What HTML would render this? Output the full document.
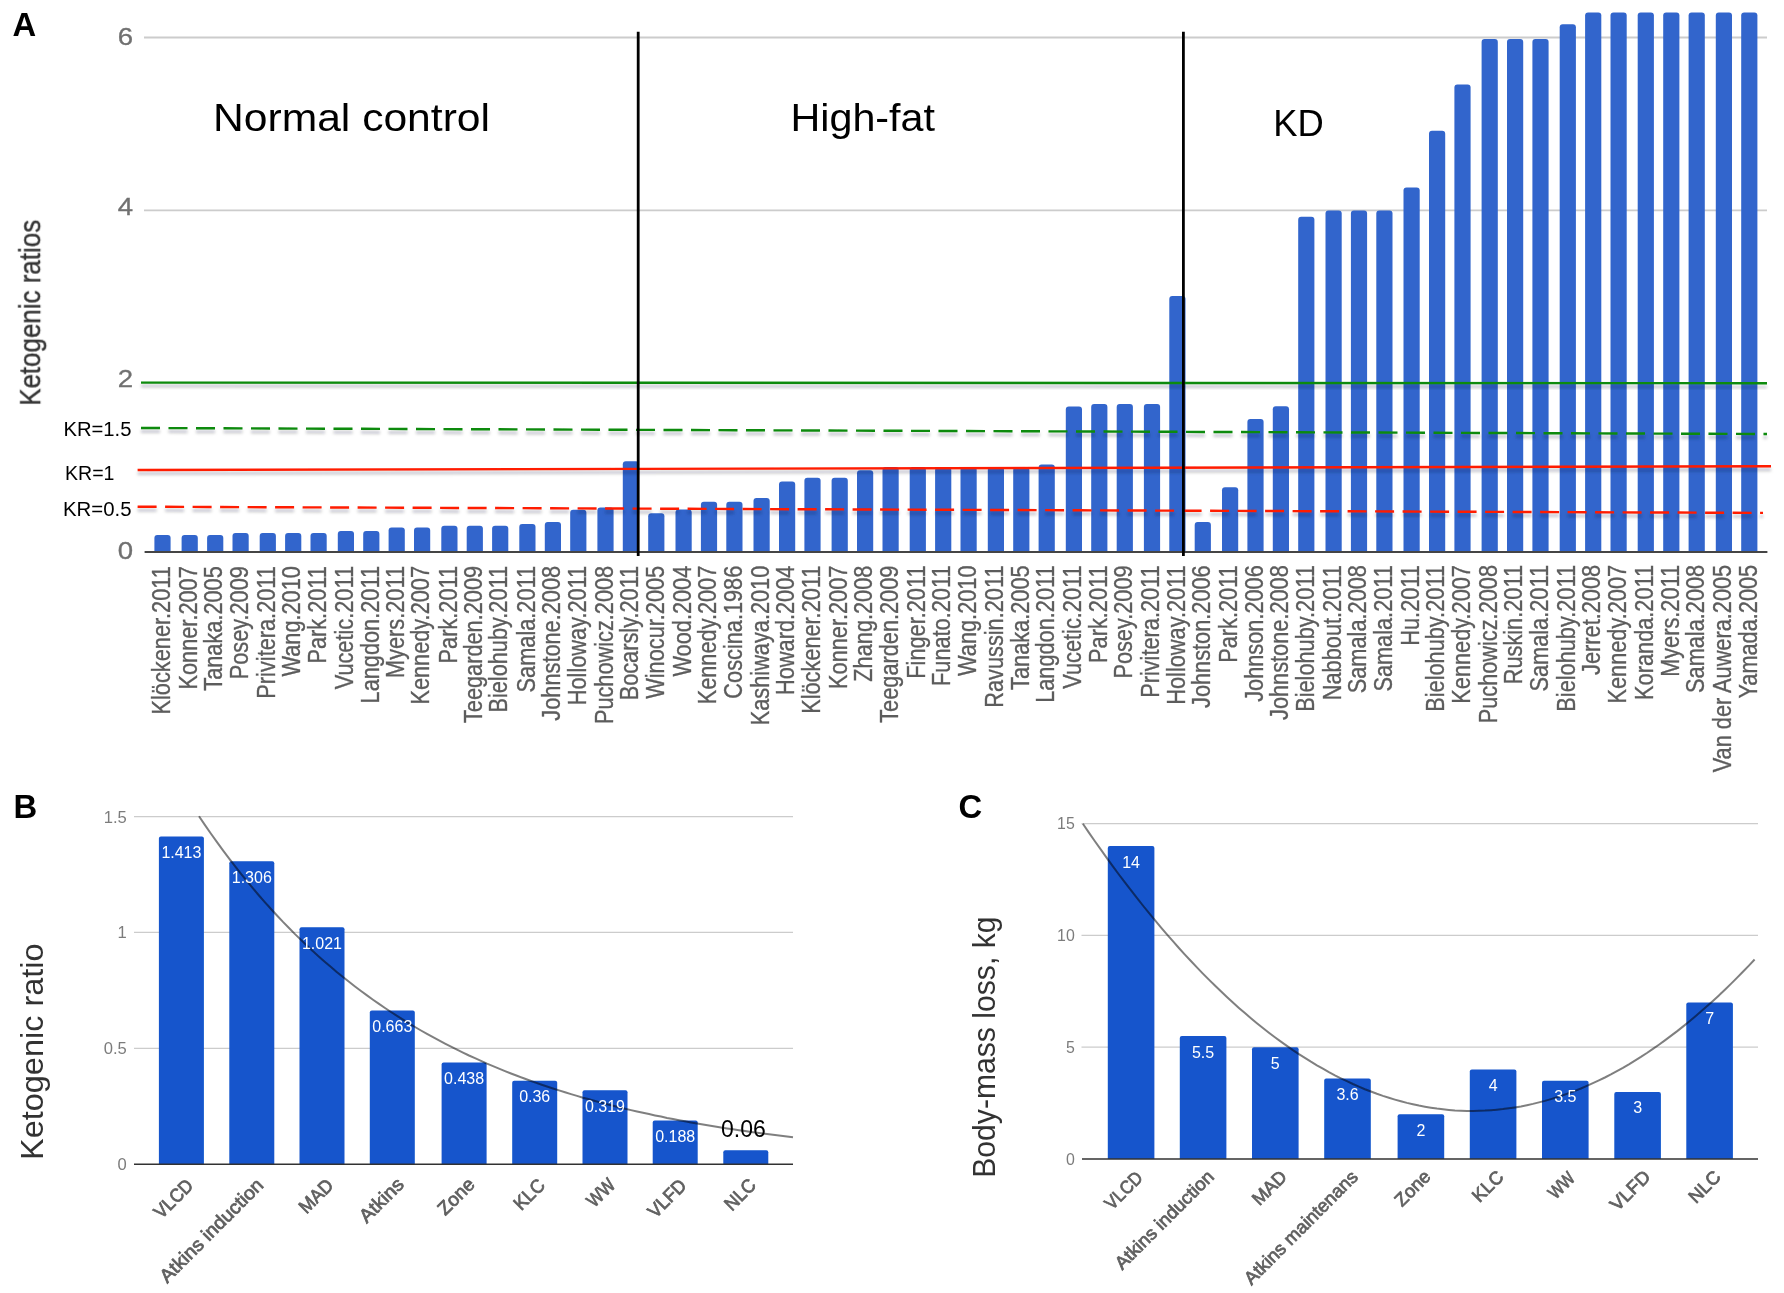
<!DOCTYPE html>
<html lang="en"><head><meta charset="utf-8"><title>Ketogenic ratios</title>
<style>
html,body{margin:0;padding:0;background:#fff;}
body{width:1784px;height:1293px;overflow:hidden;}
svg{display:block;font-family:"Liberation Sans", sans-serif;}
</style></head><body>
<svg width="1784" height="1293" viewBox="0 0 1784 1293">
<defs><filter id="blur" x="-5%" y="-400%" width="110%" height="900%" filterUnits="objectBoundingBox"><feGaussianBlur stdDeviation="1.6"/></filter>
<filter id="softA" x="0" y="0" width="1784" height="800" filterUnits="userSpaceOnUse"><feGaussianBlur stdDeviation="0.55"/></filter>
<filter id="softB" x="0" y="780" width="1784" height="513" filterUnits="userSpaceOnUse"><feGaussianBlur stdDeviation="0.4"/></filter>
</defs>
<rect width="1784" height="1293" fill="#fff"/>
<g id="panelA" filter="url(#softA)">
<text x="12.6" y="36.4" font-size="32.8" font-weight="bold" fill="#000">A</text>
<line x1="144" y1="37.5" x2="1767" y2="37.5" stroke="#cccccc" stroke-width="1.8"/>
<line x1="144" y1="210.4" x2="1767" y2="210.4" stroke="#cccccc" stroke-width="1.8"/>
<text transform="translate(133.2,45.2) scale(1.19,1)" text-anchor="end" font-size="23.2" fill="#707070" stroke="#707070" stroke-width="0.3">6</text>
<text transform="translate(133.2,215.2) scale(1.19,1)" text-anchor="end" font-size="23.2" fill="#707070" stroke="#707070" stroke-width="0.3">4</text>
<text transform="translate(133.2,387.2) scale(1.19,1)" text-anchor="end" font-size="23.2" fill="#707070" stroke="#707070" stroke-width="0.3">2</text>
<text transform="translate(133.2,558.9) scale(1.19,1)" text-anchor="end" font-size="23.2" fill="#707070" stroke="#707070" stroke-width="0.3">0</text>
<text transform="translate(40.2,405.8) rotate(-90) scale(0.895,1)" font-size="29" fill="#333" stroke="#333" stroke-width="0.35">Ketogenic ratios</text>
<path d="M154.4 552.0V538.0Q154.4 535.0 157.4 535.0H167.6Q170.6 535.0 170.6 538.0V552.0Z" fill="#3165cc"/>
<path d="M181.6 552.0V538.0Q181.6 535.0 184.6 535.0H194.8Q197.8 535.0 197.8 538.0V552.0Z" fill="#3165cc"/>
<path d="M207.1 552.0V538.0Q207.1 535.0 210.1 535.0H220.3Q223.3 535.0 223.3 538.0V552.0Z" fill="#3165cc"/>
<path d="M232.5 552.0V536.0Q232.5 533.0 235.5 533.0H245.7Q248.7 533.0 248.7 536.0V552.0Z" fill="#3165cc"/>
<path d="M259.7 552.0V536.0Q259.7 533.0 262.7 533.0H272.9Q275.9 533.0 275.9 536.0V552.0Z" fill="#3165cc"/>
<path d="M285.1 552.0V536.0Q285.1 533.0 288.1 533.0H298.3Q301.3 533.0 301.3 536.0V552.0Z" fill="#3165cc"/>
<path d="M310.5 552.0V536.0Q310.5 533.0 313.5 533.0H323.7Q326.7 533.0 326.7 536.0V552.0Z" fill="#3165cc"/>
<path d="M337.8 552.0V534.0Q337.8 531.0 340.8 531.0H351.0Q354.0 531.0 354.0 534.0V552.0Z" fill="#3165cc"/>
<path d="M363.2 552.0V534.0Q363.2 531.0 366.2 531.0H376.4Q379.4 531.0 379.4 534.0V552.0Z" fill="#3165cc"/>
<path d="M388.6 552.0V530.5Q388.6 527.5 391.6 527.5H401.8Q404.8 527.5 404.8 530.5V552.0Z" fill="#3165cc"/>
<path d="M414.0 552.0V530.5Q414.0 527.5 417.0 527.5H427.2Q430.2 527.5 430.2 530.5V552.0Z" fill="#3165cc"/>
<path d="M441.3 552.0V528.7Q441.3 525.7 444.3 525.7H454.5Q457.5 525.7 457.5 528.7V552.0Z" fill="#3165cc"/>
<path d="M466.7 552.0V528.7Q466.7 525.7 469.7 525.7H479.9Q482.9 525.7 482.9 528.7V552.0Z" fill="#3165cc"/>
<path d="M492.1 552.0V528.7Q492.1 525.7 495.1 525.7H505.3Q508.3 525.7 508.3 528.7V552.0Z" fill="#3165cc"/>
<path d="M519.3 552.0V527.0Q519.3 524.0 522.3 524.0H532.5Q535.5 524.0 535.5 527.0V552.0Z" fill="#3165cc"/>
<path d="M544.8 552.0V525.0Q544.8 522.0 547.8 522.0H558.0Q561.0 522.0 561.0 525.0V552.0Z" fill="#3165cc"/>
<path d="M570.2 552.0V512.7Q570.2 509.7 573.2 509.7H583.4Q586.4 509.7 586.4 512.7V552.0Z" fill="#3165cc"/>
<path d="M597.4 552.0V510.5Q597.4 507.5 600.4 507.5H610.6Q613.6 507.5 613.6 510.5V552.0Z" fill="#3165cc"/>
<path d="M622.8 552.0V464.3Q622.8 461.3 625.8 461.3H636.0Q639.0 461.3 639.0 464.3V552.0Z" fill="#3165cc"/>
<path d="M648.2 552.0V516.2Q648.2 513.2 651.2 513.2H661.4Q664.4 513.2 664.4 516.2V552.0Z" fill="#3165cc"/>
<path d="M675.5 552.0V512.5Q675.5 509.5 678.5 509.5H688.7Q691.7 509.5 691.7 512.5V552.0Z" fill="#3165cc"/>
<path d="M700.9 552.0V504.7Q700.9 501.7 703.9 501.7H714.1Q717.1 501.7 717.1 504.7V552.0Z" fill="#3165cc"/>
<path d="M726.3 552.0V504.7Q726.3 501.7 729.3 501.7H739.5Q742.5 501.7 742.5 504.7V552.0Z" fill="#3165cc"/>
<path d="M753.5 552.0V501.0Q753.5 498.0 756.5 498.0H766.7Q769.7 498.0 769.7 501.0V552.0Z" fill="#3165cc"/>
<path d="M779.0 552.0V484.4Q779.0 481.4 782.0 481.4H792.2Q795.2 481.4 795.2 484.4V552.0Z" fill="#3165cc"/>
<path d="M804.4 552.0V480.7Q804.4 477.7 807.4 477.7H817.6Q820.6 477.7 820.6 480.7V552.0Z" fill="#3165cc"/>
<path d="M831.6 552.0V480.7Q831.6 477.7 834.6 477.7H844.8Q847.8 477.7 847.8 480.7V552.0Z" fill="#3165cc"/>
<path d="M857.0 552.0V473.3Q857.0 470.3 860.0 470.3H870.2Q873.2 470.3 873.2 473.3V552.0Z" fill="#3165cc"/>
<path d="M882.5 552.0V470.0Q882.5 467.0 885.5 467.0H895.7Q898.7 467.0 898.7 470.0V552.0Z" fill="#3165cc"/>
<path d="M909.7 552.0V470.0Q909.7 467.0 912.7 467.0H922.9Q925.9 467.0 925.9 470.0V552.0Z" fill="#3165cc"/>
<path d="M935.1 552.0V470.0Q935.1 467.0 938.1 467.0H948.3Q951.3 467.0 951.3 470.0V552.0Z" fill="#3165cc"/>
<path d="M960.5 552.0V470.0Q960.5 467.0 963.5 467.0H973.7Q976.7 467.0 976.7 470.0V552.0Z" fill="#3165cc"/>
<path d="M987.8 552.0V470.0Q987.8 467.0 990.8 467.0H1001.0Q1004.0 467.0 1004.0 470.0V552.0Z" fill="#3165cc"/>
<path d="M1013.2 552.0V470.0Q1013.2 467.0 1016.2 467.0H1026.4Q1029.4 467.0 1029.4 470.0V552.0Z" fill="#3165cc"/>
<path d="M1038.6 552.0V467.6Q1038.6 464.6 1041.6 464.6H1051.8Q1054.8 464.6 1054.8 467.6V552.0Z" fill="#3165cc"/>
<path d="M1065.8 552.0V409.4Q1065.8 406.4 1068.8 406.4H1079.0Q1082.0 406.4 1082.0 409.4V552.0Z" fill="#3165cc"/>
<path d="M1091.2 552.0V407.0Q1091.2 404.0 1094.2 404.0H1104.4Q1107.4 404.0 1107.4 407.0V552.0Z" fill="#3165cc"/>
<path d="M1116.7 552.0V407.0Q1116.7 404.0 1119.7 404.0H1129.9Q1132.9 404.0 1132.9 407.0V552.0Z" fill="#3165cc"/>
<path d="M1143.9 552.0V407.0Q1143.9 404.0 1146.9 404.0H1157.1Q1160.1 404.0 1160.1 407.0V552.0Z" fill="#3165cc"/>
<path d="M1169.3 552.0V299.0Q1169.3 296.0 1172.3 296.0H1182.5Q1185.5 296.0 1185.5 299.0V552.0Z" fill="#3165cc"/>
<path d="M1194.7 552.0V525.0Q1194.7 522.0 1197.7 522.0H1207.9Q1210.9 522.0 1210.9 525.0V552.0Z" fill="#3165cc"/>
<path d="M1222.0 552.0V490.3Q1222.0 487.3 1225.0 487.3H1235.2Q1238.2 487.3 1238.2 490.3V552.0Z" fill="#3165cc"/>
<path d="M1247.4 552.0V422.0Q1247.4 419.0 1250.4 419.0H1260.6Q1263.6 419.0 1263.6 422.0V552.0Z" fill="#3165cc"/>
<path d="M1272.8 552.0V409.2Q1272.8 406.2 1275.8 406.2H1286.0Q1289.0 406.2 1289.0 409.2V552.0Z" fill="#3165cc"/>
<path d="M1298.2 552.0V219.8Q1298.2 216.8 1301.2 216.8H1311.4Q1314.4 216.8 1314.4 219.8V552.0Z" fill="#3165cc"/>
<path d="M1325.5 552.0V213.4Q1325.5 210.4 1328.5 210.4H1338.7Q1341.7 210.4 1341.7 213.4V552.0Z" fill="#3165cc"/>
<path d="M1350.9 552.0V213.4Q1350.9 210.4 1353.9 210.4H1364.1Q1367.1 210.4 1367.1 213.4V552.0Z" fill="#3165cc"/>
<path d="M1376.3 552.0V213.4Q1376.3 210.4 1379.3 210.4H1389.5Q1392.5 210.4 1392.5 213.4V552.0Z" fill="#3165cc"/>
<path d="M1403.5 552.0V190.6Q1403.5 187.6 1406.5 187.6H1416.7Q1419.7 187.6 1419.7 190.6V552.0Z" fill="#3165cc"/>
<path d="M1429.0 552.0V133.8Q1429.0 130.8 1432.0 130.8H1442.2Q1445.2 130.8 1445.2 133.8V552.0Z" fill="#3165cc"/>
<path d="M1454.4 552.0V87.6Q1454.4 84.6 1457.4 84.6H1467.6Q1470.6 84.6 1470.6 87.6V552.0Z" fill="#3165cc"/>
<path d="M1481.6 552.0V42.0Q1481.6 39.0 1484.6 39.0H1494.8Q1497.8 39.0 1497.8 42.0V552.0Z" fill="#3165cc"/>
<path d="M1507.0 552.0V42.0Q1507.0 39.0 1510.0 39.0H1520.2Q1523.2 39.0 1523.2 42.0V552.0Z" fill="#3165cc"/>
<path d="M1532.4 552.0V42.0Q1532.4 39.0 1535.4 39.0H1545.6Q1548.6 39.0 1548.6 42.0V552.0Z" fill="#3165cc"/>
<path d="M1559.7 552.0V27.2Q1559.7 24.2 1562.7 24.2H1572.9Q1575.9 24.2 1575.9 27.2V552.0Z" fill="#3165cc"/>
<path d="M1585.1 552.0V15.4Q1585.1 12.4 1588.1 12.4H1598.3Q1601.3 12.4 1601.3 15.4V552.0Z" fill="#3165cc"/>
<path d="M1610.5 552.0V15.4Q1610.5 12.4 1613.5 12.4H1623.7Q1626.7 12.4 1626.7 15.4V552.0Z" fill="#3165cc"/>
<path d="M1637.7 552.0V15.4Q1637.7 12.4 1640.7 12.4H1650.9Q1653.9 12.4 1653.9 15.4V552.0Z" fill="#3165cc"/>
<path d="M1663.2 552.0V15.4Q1663.2 12.4 1666.2 12.4H1676.4Q1679.4 12.4 1679.4 15.4V552.0Z" fill="#3165cc"/>
<path d="M1688.6 552.0V15.4Q1688.6 12.4 1691.6 12.4H1701.8Q1704.8 12.4 1704.8 15.4V552.0Z" fill="#3165cc"/>
<path d="M1715.8 552.0V15.4Q1715.8 12.4 1718.8 12.4H1729.0Q1732.0 12.4 1732.0 15.4V552.0Z" fill="#3165cc"/>
<path d="M1741.2 552.0V15.4Q1741.2 12.4 1744.2 12.4H1754.4Q1757.4 12.4 1757.4 15.4V552.0Z" fill="#3165cc"/>
<line x1="144.6" y1="552.0" x2="1767.4" y2="552.0" stroke="#444" stroke-width="2"/>
<line x1="141" y1="386.1" x2="1767" y2="386.7" stroke="#101820" stroke-opacity="0.22" stroke-width="3" filter="url(#blur)"/>
<line x1="141" y1="382.6" x2="1767" y2="383.2" stroke="#0b8a0b" stroke-width="2.4"/>
<line x1="141" y1="431.5" x2="1767" y2="437.5" stroke="#101820" stroke-opacity="0.22" stroke-width="3" stroke-dasharray="19 8.5" filter="url(#blur)"/>
<line x1="141" y1="428" x2="1767" y2="434" stroke="#0b8a0b" stroke-width="2.4" stroke-dasharray="19 8.5"/>
<line x1="137.6" y1="473.5" x2="1771" y2="469.8" stroke="#101820" stroke-opacity="0.22" stroke-width="3" filter="url(#blur)"/>
<line x1="137.6" y1="470" x2="1771" y2="466.3" stroke="#ff1a00" stroke-width="2.4"/>
<line x1="137.6" y1="510.2" x2="1763" y2="516.4" stroke="#101820" stroke-opacity="0.22" stroke-width="3" stroke-dasharray="19 8.5" filter="url(#blur)"/>
<line x1="137.6" y1="506.7" x2="1763" y2="512.9" stroke="#ff1a00" stroke-width="2.4" stroke-dasharray="19 8.5"/>
<line x1="638.2" y1="31.7" x2="638.2" y2="556" stroke="#000" stroke-width="2.8"/>
<line x1="1183.4" y1="31.7" x2="1183.4" y2="556" stroke="#000" stroke-width="2.8"/>
<text x="213" y="131.4" font-size="38" fill="#000" textLength="277" lengthAdjust="spacingAndGlyphs">Normal control</text>
<text x="790.5" y="131.4" font-size="38" fill="#000" textLength="144.5" lengthAdjust="spacingAndGlyphs">High-fat</text>
<text x="1273.2" y="136" font-size="37" fill="#000" textLength="50.5" lengthAdjust="spacingAndGlyphs">KD</text>
<text x="63.4" y="436" font-size="20.7" fill="#000" textLength="68" lengthAdjust="spacingAndGlyphs">KR=1.5</text>
<text x="65" y="480" font-size="20.7" fill="#000" textLength="49.4" lengthAdjust="spacingAndGlyphs">KR=1</text>
<text x="63" y="515.6" font-size="20.7" fill="#000" textLength="68.5" lengthAdjust="spacingAndGlyphs">KR=0.5</text>
<text transform="translate(169.7,566.2) rotate(-90) scale(0.853,1)" text-anchor="end" font-size="25.5" fill="#5c5c5c" stroke="#5c5c5c" stroke-width="0.35">Klöckener.2011</text>
<text transform="translate(196.9,566.2) rotate(-90) scale(0.853,1)" text-anchor="end" font-size="25.5" fill="#5c5c5c" stroke="#5c5c5c" stroke-width="0.35">Konner.2007</text>
<text transform="translate(222.4,566.2) rotate(-90) scale(0.853,1)" text-anchor="end" font-size="25.5" fill="#5c5c5c" stroke="#5c5c5c" stroke-width="0.35">Tanaka.2005</text>
<text transform="translate(247.8,566.1) rotate(-90) scale(0.853,1)" text-anchor="end" font-size="25.5" fill="#5c5c5c" stroke="#5c5c5c" stroke-width="0.35">Posey.2009</text>
<text transform="translate(275.0,566.1) rotate(-90) scale(0.853,1)" text-anchor="end" font-size="25.5" fill="#5c5c5c" stroke="#5c5c5c" stroke-width="0.35">Privitera.2011</text>
<text transform="translate(300.4,566.1) rotate(-90) scale(0.853,1)" text-anchor="end" font-size="25.5" fill="#5c5c5c" stroke="#5c5c5c" stroke-width="0.35">Wang.2010</text>
<text transform="translate(325.8,566.1) rotate(-90) scale(0.853,1)" text-anchor="end" font-size="25.5" fill="#5c5c5c" stroke="#5c5c5c" stroke-width="0.35">Park.2011</text>
<text transform="translate(353.1,566.0) rotate(-90) scale(0.853,1)" text-anchor="end" font-size="25.5" fill="#5c5c5c" stroke="#5c5c5c" stroke-width="0.35">Vucetic.2011</text>
<text transform="translate(378.5,566.0) rotate(-90) scale(0.853,1)" text-anchor="end" font-size="25.5" fill="#5c5c5c" stroke="#5c5c5c" stroke-width="0.35">Langdon.2011</text>
<text transform="translate(403.9,566.0) rotate(-90) scale(0.853,1)" text-anchor="end" font-size="25.5" fill="#5c5c5c" stroke="#5c5c5c" stroke-width="0.35">Myers.2011</text>
<text transform="translate(429.3,566.0) rotate(-90) scale(0.853,1)" text-anchor="end" font-size="25.5" fill="#5c5c5c" stroke="#5c5c5c" stroke-width="0.35">Kennedy.2007</text>
<text transform="translate(456.6,565.9) rotate(-90) scale(0.853,1)" text-anchor="end" font-size="25.5" fill="#5c5c5c" stroke="#5c5c5c" stroke-width="0.35">Park.2011</text>
<text transform="translate(482.0,565.9) rotate(-90) scale(0.853,1)" text-anchor="end" font-size="25.5" fill="#5c5c5c" stroke="#5c5c5c" stroke-width="0.35">Teegarden.2009</text>
<text transform="translate(507.4,565.9) rotate(-90) scale(0.853,1)" text-anchor="end" font-size="25.5" fill="#5c5c5c" stroke="#5c5c5c" stroke-width="0.35">Bielohuby.2011</text>
<text transform="translate(534.6,565.9) rotate(-90) scale(0.853,1)" text-anchor="end" font-size="25.5" fill="#5c5c5c" stroke="#5c5c5c" stroke-width="0.35">Samala.2011</text>
<text transform="translate(560.1,565.9) rotate(-90) scale(0.853,1)" text-anchor="end" font-size="25.5" fill="#5c5c5c" stroke="#5c5c5c" stroke-width="0.35">Johnstone.2008</text>
<text transform="translate(585.5,565.8) rotate(-90) scale(0.853,1)" text-anchor="end" font-size="25.5" fill="#5c5c5c" stroke="#5c5c5c" stroke-width="0.35">Holloway.2011</text>
<text transform="translate(612.7,565.8) rotate(-90) scale(0.853,1)" text-anchor="end" font-size="25.5" fill="#5c5c5c" stroke="#5c5c5c" stroke-width="0.35">Puchowicz.2008</text>
<text transform="translate(638.1,565.8) rotate(-90) scale(0.853,1)" text-anchor="end" font-size="25.5" fill="#5c5c5c" stroke="#5c5c5c" stroke-width="0.35">Bocarsly.2011</text>
<text transform="translate(663.5,565.8) rotate(-90) scale(0.853,1)" text-anchor="end" font-size="25.5" fill="#5c5c5c" stroke="#5c5c5c" stroke-width="0.35">Winocur.2005</text>
<text transform="translate(690.8,565.7) rotate(-90) scale(0.853,1)" text-anchor="end" font-size="25.5" fill="#5c5c5c" stroke="#5c5c5c" stroke-width="0.35">Wood.2004</text>
<text transform="translate(716.2,565.7) rotate(-90) scale(0.853,1)" text-anchor="end" font-size="25.5" fill="#5c5c5c" stroke="#5c5c5c" stroke-width="0.35">Kennedy.2007</text>
<text transform="translate(741.6,565.7) rotate(-90) scale(0.853,1)" text-anchor="end" font-size="25.5" fill="#5c5c5c" stroke="#5c5c5c" stroke-width="0.35">Coscina.1986</text>
<text transform="translate(768.8,565.7) rotate(-90) scale(0.853,1)" text-anchor="end" font-size="25.5" fill="#5c5c5c" stroke="#5c5c5c" stroke-width="0.35">Kashiwaya.2010</text>
<text transform="translate(794.3,565.6) rotate(-90) scale(0.853,1)" text-anchor="end" font-size="25.5" fill="#5c5c5c" stroke="#5c5c5c" stroke-width="0.35">Howard.2004</text>
<text transform="translate(819.7,565.6) rotate(-90) scale(0.853,1)" text-anchor="end" font-size="25.5" fill="#5c5c5c" stroke="#5c5c5c" stroke-width="0.35">Klöckener.2011</text>
<text transform="translate(846.9,565.6) rotate(-90) scale(0.853,1)" text-anchor="end" font-size="25.5" fill="#5c5c5c" stroke="#5c5c5c" stroke-width="0.35">Konner.2007</text>
<text transform="translate(872.3,565.6) rotate(-90) scale(0.853,1)" text-anchor="end" font-size="25.5" fill="#5c5c5c" stroke="#5c5c5c" stroke-width="0.35">Zhang.2008</text>
<text transform="translate(897.8,565.6) rotate(-90) scale(0.853,1)" text-anchor="end" font-size="25.5" fill="#5c5c5c" stroke="#5c5c5c" stroke-width="0.35">Teegarden.2009</text>
<text transform="translate(925.0,565.5) rotate(-90) scale(0.853,1)" text-anchor="end" font-size="25.5" fill="#5c5c5c" stroke="#5c5c5c" stroke-width="0.35">Finger.2011</text>
<text transform="translate(950.4,565.5) rotate(-90) scale(0.853,1)" text-anchor="end" font-size="25.5" fill="#5c5c5c" stroke="#5c5c5c" stroke-width="0.35">Funato.2011</text>
<text transform="translate(975.8,565.5) rotate(-90) scale(0.853,1)" text-anchor="end" font-size="25.5" fill="#5c5c5c" stroke="#5c5c5c" stroke-width="0.35">Wang.2010</text>
<text transform="translate(1003.1,565.5) rotate(-90) scale(0.853,1)" text-anchor="end" font-size="25.5" fill="#5c5c5c" stroke="#5c5c5c" stroke-width="0.35">Ravussin.2011</text>
<text transform="translate(1028.5,565.4) rotate(-90) scale(0.853,1)" text-anchor="end" font-size="25.5" fill="#5c5c5c" stroke="#5c5c5c" stroke-width="0.35">Tanaka.2005</text>
<text transform="translate(1053.9,565.4) rotate(-90) scale(0.853,1)" text-anchor="end" font-size="25.5" fill="#5c5c5c" stroke="#5c5c5c" stroke-width="0.35">Langdon.2011</text>
<text transform="translate(1081.1,565.4) rotate(-90) scale(0.853,1)" text-anchor="end" font-size="25.5" fill="#5c5c5c" stroke="#5c5c5c" stroke-width="0.35">Vucetic.2011</text>
<text transform="translate(1106.5,565.4) rotate(-90) scale(0.853,1)" text-anchor="end" font-size="25.5" fill="#5c5c5c" stroke="#5c5c5c" stroke-width="0.35">Park.2011</text>
<text transform="translate(1132.0,565.4) rotate(-90) scale(0.853,1)" text-anchor="end" font-size="25.5" fill="#5c5c5c" stroke="#5c5c5c" stroke-width="0.35">Posey.2009</text>
<text transform="translate(1159.2,565.3) rotate(-90) scale(0.853,1)" text-anchor="end" font-size="25.5" fill="#5c5c5c" stroke="#5c5c5c" stroke-width="0.35">Privitera.2011</text>
<text transform="translate(1184.6,565.3) rotate(-90) scale(0.853,1)" text-anchor="end" font-size="25.5" fill="#5c5c5c" stroke="#5c5c5c" stroke-width="0.35">Holloway.2011</text>
<text transform="translate(1210.0,565.3) rotate(-90) scale(0.853,1)" text-anchor="end" font-size="25.5" fill="#5c5c5c" stroke="#5c5c5c" stroke-width="0.35">Johnston.2006</text>
<text transform="translate(1237.3,565.3) rotate(-90) scale(0.853,1)" text-anchor="end" font-size="25.5" fill="#5c5c5c" stroke="#5c5c5c" stroke-width="0.35">Park.2011</text>
<text transform="translate(1262.7,565.2) rotate(-90) scale(0.853,1)" text-anchor="end" font-size="25.5" fill="#5c5c5c" stroke="#5c5c5c" stroke-width="0.35">Johnson.2006</text>
<text transform="translate(1288.1,565.2) rotate(-90) scale(0.853,1)" text-anchor="end" font-size="25.5" fill="#5c5c5c" stroke="#5c5c5c" stroke-width="0.35">Johnstone.2008</text>
<text transform="translate(1313.5,565.2) rotate(-90) scale(0.853,1)" text-anchor="end" font-size="25.5" fill="#5c5c5c" stroke="#5c5c5c" stroke-width="0.35">Bielohuby.2011</text>
<text transform="translate(1340.8,565.2) rotate(-90) scale(0.853,1)" text-anchor="end" font-size="25.5" fill="#5c5c5c" stroke="#5c5c5c" stroke-width="0.35">Nabbout.2011</text>
<text transform="translate(1366.2,565.1) rotate(-90) scale(0.853,1)" text-anchor="end" font-size="25.5" fill="#5c5c5c" stroke="#5c5c5c" stroke-width="0.35">Samala.2008</text>
<text transform="translate(1391.6,565.1) rotate(-90) scale(0.853,1)" text-anchor="end" font-size="25.5" fill="#5c5c5c" stroke="#5c5c5c" stroke-width="0.35">Samala.2011</text>
<text transform="translate(1418.8,565.1) rotate(-90) scale(0.853,1)" text-anchor="end" font-size="25.5" fill="#5c5c5c" stroke="#5c5c5c" stroke-width="0.35">Hu.2011</text>
<text transform="translate(1444.3,565.1) rotate(-90) scale(0.853,1)" text-anchor="end" font-size="25.5" fill="#5c5c5c" stroke="#5c5c5c" stroke-width="0.35">Bielohuby.2011</text>
<text transform="translate(1469.7,565.1) rotate(-90) scale(0.853,1)" text-anchor="end" font-size="25.5" fill="#5c5c5c" stroke="#5c5c5c" stroke-width="0.35">Kennedy.2007</text>
<text transform="translate(1496.9,565.0) rotate(-90) scale(0.853,1)" text-anchor="end" font-size="25.5" fill="#5c5c5c" stroke="#5c5c5c" stroke-width="0.35">Puchowicz.2008</text>
<text transform="translate(1522.3,565.0) rotate(-90) scale(0.853,1)" text-anchor="end" font-size="25.5" fill="#5c5c5c" stroke="#5c5c5c" stroke-width="0.35">Ruskin.2011</text>
<text transform="translate(1547.7,565.0) rotate(-90) scale(0.853,1)" text-anchor="end" font-size="25.5" fill="#5c5c5c" stroke="#5c5c5c" stroke-width="0.35">Samala.2011</text>
<text transform="translate(1575.0,565.0) rotate(-90) scale(0.853,1)" text-anchor="end" font-size="25.5" fill="#5c5c5c" stroke="#5c5c5c" stroke-width="0.35">Bielohuby.2011</text>
<text transform="translate(1600.4,564.9) rotate(-90) scale(0.853,1)" text-anchor="end" font-size="25.5" fill="#5c5c5c" stroke="#5c5c5c" stroke-width="0.35">Jerret.2008</text>
<text transform="translate(1625.8,564.9) rotate(-90) scale(0.853,1)" text-anchor="end" font-size="25.5" fill="#5c5c5c" stroke="#5c5c5c" stroke-width="0.35">Kennedy.2007</text>
<text transform="translate(1653.0,564.9) rotate(-90) scale(0.853,1)" text-anchor="end" font-size="25.5" fill="#5c5c5c" stroke="#5c5c5c" stroke-width="0.35">Koranda.2011</text>
<text transform="translate(1678.5,564.9) rotate(-90) scale(0.853,1)" text-anchor="end" font-size="25.5" fill="#5c5c5c" stroke="#5c5c5c" stroke-width="0.35">Myers.2011</text>
<text transform="translate(1703.9,564.8) rotate(-90) scale(0.853,1)" text-anchor="end" font-size="25.5" fill="#5c5c5c" stroke="#5c5c5c" stroke-width="0.35">Samala.2008</text>
<text transform="translate(1731.1,564.8) rotate(-90) scale(0.853,1)" text-anchor="end" font-size="25.5" fill="#5c5c5c" stroke="#5c5c5c" stroke-width="0.35">Van der Auwera.2005</text>
<text transform="translate(1756.5,564.8) rotate(-90) scale(0.853,1)" text-anchor="end" font-size="25.5" fill="#5c5c5c" stroke="#5c5c5c" stroke-width="0.35">Yamada.2005</text>
</g>
<g id="panelB" filter="url(#softB)">
<text x="13.5" y="817.8" font-size="32.8" font-weight="bold" fill="#000">B</text>
<line x1="134" y1="816.6" x2="793" y2="816.6" stroke="#cccccc" stroke-width="1.3"/>
<line x1="134" y1="932.4" x2="793" y2="932.4" stroke="#cccccc" stroke-width="1.3"/>
<line x1="134" y1="1048.4" x2="793" y2="1048.4" stroke="#cccccc" stroke-width="1.3"/>
<text x="126.8" y="822.6" text-anchor="end" font-size="16.6" fill="#7c7c7c">1.5</text>
<text x="126.8" y="938.4" text-anchor="end" font-size="16.6" fill="#7c7c7c">1</text>
<text x="126.8" y="1054.4" text-anchor="end" font-size="16.6" fill="#7c7c7c">0.5</text>
<text x="126.8" y="1170.2" text-anchor="end" font-size="16.6" fill="#7c7c7c">0</text>
<text transform="translate(42.6,1160) rotate(-90)" font-size="31.2" fill="#333" textLength="216.6" lengthAdjust="spacingAndGlyphs">Ketogenic ratio</text>
<path d="M158.9 1164.2V838.4Q158.9 836.4 160.9 836.4H201.9Q203.9 836.4 203.9 838.4V1164.2Z" fill="#1455cc"/>
<path d="M229.3 1164.2V863.2Q229.3 861.2 231.3 861.2H272.3Q274.3 861.2 274.3 863.2V1164.2Z" fill="#1455cc"/>
<path d="M299.5 1164.2V929.3Q299.5 927.3 301.5 927.3H342.5Q344.5 927.3 344.5 929.3V1164.2Z" fill="#1455cc"/>
<path d="M369.8 1164.2V1012.4Q369.8 1010.4 371.8 1010.4H412.8Q414.8 1010.4 414.8 1012.4V1164.2Z" fill="#1455cc"/>
<path d="M441.6 1164.2V1064.6Q441.6 1062.6 443.6 1062.6H484.6Q486.6 1062.6 486.6 1064.6V1164.2Z" fill="#1455cc"/>
<path d="M512.2 1164.2V1082.7Q512.2 1080.7 514.2 1080.7H555.2Q557.2 1080.7 557.2 1082.7V1164.2Z" fill="#1455cc"/>
<path d="M582.5 1164.2V1092.2Q582.5 1090.2 584.5 1090.2H625.5Q627.5 1090.2 627.5 1092.2V1164.2Z" fill="#1455cc"/>
<path d="M652.7 1164.2V1122.6Q652.7 1120.6 654.7 1120.6H695.7Q697.7 1120.6 697.7 1122.6V1164.2Z" fill="#1455cc"/>
<path d="M723.3 1164.2V1152.3Q723.3 1150.3 725.3 1150.3H766.3Q768.3 1150.3 768.3 1152.3V1164.2Z" fill="#1455cc"/>
<line x1="134" y1="1164.2" x2="793" y2="1164.2" stroke="#333" stroke-width="1.6"/>
<polyline points="199.0,816.2 205.0,825.1 211.0,833.7 217.0,842.2 223.0,850.4 229.0,858.4 235.0,866.2 241.0,873.8 247.0,881.2 253.0,888.4 259.0,895.5 265.0,902.3 271.0,909.0 277.0,915.5 283.0,921.9 289.0,928.0 295.0,934.1 301.0,939.9 307.0,945.7 313.0,951.2 319.0,956.7 325.0,962.0 331.0,967.1 337.0,972.2 343.0,977.1 349.0,981.8 355.0,986.5 361.0,991.0 367.0,995.4 373.0,999.7 379.0,1003.9 385.0,1008.0 391.0,1012.0 397.0,1015.9 403.0,1019.7 409.0,1023.4 415.0,1027.0 421.0,1030.5 427.0,1033.9 433.0,1037.2 439.0,1040.4 445.0,1043.6 451.0,1046.7 457.0,1049.7 463.0,1052.6 469.0,1055.5 475.0,1058.2 481.0,1060.9 487.0,1063.6 493.0,1066.1 499.0,1068.6 505.0,1071.1 511.0,1073.5 517.0,1075.8 523.0,1078.0 529.0,1080.2 535.0,1082.4 541.0,1084.5 547.0,1086.5 553.0,1088.5 559.0,1090.4 565.0,1092.3 571.0,1094.1 577.0,1095.9 583.0,1097.7 589.0,1099.3 595.0,1101.0 601.0,1102.6 607.0,1104.2 613.0,1105.7 619.0,1107.2 625.0,1108.7 631.0,1110.1 637.0,1111.5 643.0,1112.8 649.0,1114.1 655.0,1115.4 661.0,1116.6 667.0,1117.9 673.0,1119.0 679.0,1120.2 685.0,1121.3 691.0,1122.4 697.0,1123.5 703.0,1124.5 709.0,1125.5 715.0,1126.5 721.0,1127.5 727.0,1128.4 733.0,1129.3 739.0,1130.2 745.0,1131.1 751.0,1131.9 757.0,1132.8 763.0,1133.6 769.0,1134.3 775.0,1135.1 781.0,1135.8 787.0,1136.6 793.0,1137.3 793,1137.3" fill="none" stroke="#000" stroke-opacity="0.5" stroke-width="2"/>
<text x="181.4" y="857.9" text-anchor="middle" font-size="16" fill="#fff">1.413</text>
<text x="251.8" y="882.7" text-anchor="middle" font-size="16" fill="#fff">1.306</text>
<text x="322.0" y="948.8" text-anchor="middle" font-size="16" fill="#fff">1.021</text>
<text x="392.3" y="1031.9" text-anchor="middle" font-size="16" fill="#fff">0.663</text>
<text x="464.1" y="1084.1" text-anchor="middle" font-size="16" fill="#fff">0.438</text>
<text x="534.7" y="1102.2" text-anchor="middle" font-size="16" fill="#fff">0.36</text>
<text x="605.0" y="1111.7" text-anchor="middle" font-size="16" fill="#fff">0.319</text>
<text x="675.2" y="1142.1" text-anchor="middle" font-size="16" fill="#fff">0.188</text>
<text x="721" y="1136.8" font-size="23" fill="#000">0.06</text>
<text transform="translate(194.4,1186.8) rotate(-45) scale(0.915,1)" text-anchor="end" font-size="19" fill="#606060" stroke="#606060" stroke-width="0.75">VLCD</text>
<text transform="translate(264.6,1186.3) rotate(-45) scale(1.035,1)" text-anchor="end" font-size="19" fill="#606060" stroke="#606060" stroke-width="0.75">Atkins induction</text>
<text transform="translate(334.5,1186.6) rotate(-45) scale(0.934,1)" text-anchor="end" font-size="19" fill="#606060" stroke="#606060" stroke-width="0.75">MAD</text>
<text transform="translate(405.0,1185.6) rotate(-45) scale(1.044,1)" text-anchor="end" font-size="19" fill="#606060" stroke="#606060" stroke-width="0.75">Atkins</text>
<text transform="translate(476.0,1185.5) rotate(-45) scale(1.004,1)" text-anchor="end" font-size="19" fill="#606060" stroke="#606060" stroke-width="0.75">Zone</text>
<text transform="translate(546.2,1186.4) rotate(-45) scale(0.956,1)" text-anchor="end" font-size="19" fill="#606060" stroke="#606060" stroke-width="0.75">KLC</text>
<text transform="translate(616.4,1186.2) rotate(-45) scale(0.869,1)" text-anchor="end" font-size="19" fill="#606060" stroke="#606060" stroke-width="0.75">WW</text>
<text transform="translate(687.6,1186.8) rotate(-45) scale(0.938,1)" text-anchor="end" font-size="19" fill="#606060" stroke="#606060" stroke-width="0.75">VLFD</text>
<text transform="translate(757.2,1186.4) rotate(-45) scale(0.94,1)" text-anchor="end" font-size="19" fill="#606060" stroke="#606060" stroke-width="0.75">NLC</text>
</g>
<g id="panelC" filter="url(#softB)">
<text x="958.5" y="818" font-size="32.8" font-weight="bold" fill="#000">C</text>
<line x1="1081.5" y1="823.6" x2="1758" y2="823.6" stroke="#cccccc" stroke-width="1.3"/>
<line x1="1081.5" y1="935.4" x2="1758" y2="935.4" stroke="#cccccc" stroke-width="1.3"/>
<line x1="1081.5" y1="1047.2" x2="1758" y2="1047.2" stroke="#cccccc" stroke-width="1.3"/>
<text x="1074.8" y="829.4" text-anchor="end" font-size="15.9" fill="#7c7c7c">15</text>
<text x="1074.8" y="941.1999999999999" text-anchor="end" font-size="15.9" fill="#7c7c7c">10</text>
<text x="1074.8" y="1053.0" text-anchor="end" font-size="15.9" fill="#7c7c7c">5</text>
<text x="1074.8" y="1164.8" text-anchor="end" font-size="15.9" fill="#7c7c7c">0</text>
<text transform="translate(995,1177.8) rotate(-90)" font-size="30.8" fill="#333" textLength="261.3" lengthAdjust="spacingAndGlyphs">Body-mass loss, kg</text>
<path d="M1107.8 1159.0V848.0Q1107.8 846.0 1109.8 846.0H1152.4Q1154.4 846.0 1154.4 848.0V1159.0Z" fill="#1455cc"/>
<path d="M1179.8 1159.0V1038.0Q1179.8 1036.0 1181.8 1036.0H1224.4Q1226.4 1036.0 1226.4 1038.0V1159.0Z" fill="#1455cc"/>
<path d="M1252.0 1159.0V1049.2Q1252.0 1047.2 1254.0 1047.2H1296.6Q1298.6 1047.2 1298.6 1049.2V1159.0Z" fill="#1455cc"/>
<path d="M1324.2 1159.0V1080.5Q1324.2 1078.5 1326.2 1078.5H1368.8Q1370.8 1078.5 1370.8 1080.5V1159.0Z" fill="#1455cc"/>
<path d="M1397.6 1159.0V1116.3Q1397.6 1114.3 1399.6 1114.3H1442.2Q1444.2 1114.3 1444.2 1116.3V1159.0Z" fill="#1455cc"/>
<path d="M1469.8 1159.0V1071.6Q1469.8 1069.6 1471.8 1069.6H1514.4Q1516.4 1069.6 1516.4 1071.6V1159.0Z" fill="#1455cc"/>
<path d="M1542.0 1159.0V1082.7Q1542.0 1080.7 1544.0 1080.7H1586.6Q1588.6 1080.7 1588.6 1082.7V1159.0Z" fill="#1455cc"/>
<path d="M1614.3 1159.0V1093.9Q1614.3 1091.9 1616.3 1091.9H1658.9Q1660.9 1091.9 1660.9 1093.9V1159.0Z" fill="#1455cc"/>
<path d="M1686.3 1159.0V1004.5Q1686.3 1002.5 1688.3 1002.5H1730.9Q1732.9 1002.5 1732.9 1004.5V1159.0Z" fill="#1455cc"/>
<line x1="1082" y1="1159.0" x2="1758" y2="1159.0" stroke="#333" stroke-width="1.6"/>
<polyline points="1082.9,823.8 1088.9,832.6 1094.9,841.2 1100.9,849.7 1106.9,858.1 1112.9,866.3 1118.9,874.5 1124.9,882.4 1130.9,890.2 1136.9,897.9 1142.9,905.5 1148.9,912.9 1154.9,920.2 1160.9,927.4 1166.9,934.4 1172.9,941.2 1178.9,948.0 1184.9,954.6 1190.9,961.0 1196.9,967.4 1202.9,973.6 1208.9,979.6 1214.9,985.5 1220.9,991.3 1226.9,997.0 1232.9,1002.5 1238.9,1007.9 1244.9,1013.1 1250.9,1018.2 1256.9,1023.2 1262.9,1028.0 1268.9,1032.7 1274.9,1037.2 1280.9,1041.6 1286.9,1045.9 1292.9,1050.1 1298.9,1054.1 1304.9,1057.9 1310.9,1061.7 1316.9,1065.3 1322.9,1068.7 1328.9,1072.1 1334.9,1075.3 1340.9,1078.3 1346.9,1081.2 1352.9,1084.0 1358.9,1086.6 1364.9,1089.2 1370.9,1091.5 1376.9,1093.8 1382.9,1095.9 1388.9,1097.8 1394.9,1099.6 1400.9,1101.3 1406.9,1102.9 1412.9,1104.3 1418.9,1105.6 1424.9,1106.7 1430.9,1107.7 1436.9,1108.6 1442.9,1109.3 1448.9,1109.9 1454.9,1110.4 1460.9,1110.7 1466.9,1110.9 1472.9,1110.9 1478.9,1110.8 1484.9,1110.6 1490.9,1110.2 1496.9,1109.7 1502.9,1109.1 1508.9,1108.3 1514.9,1107.4 1520.9,1106.4 1526.9,1105.2 1532.9,1103.9 1538.9,1102.4 1544.9,1100.9 1550.9,1099.1 1556.9,1097.3 1562.9,1095.3 1568.9,1093.1 1574.9,1090.9 1580.9,1088.5 1586.9,1085.9 1592.9,1083.2 1598.9,1080.4 1604.9,1077.5 1610.9,1074.4 1616.9,1071.1 1622.9,1067.8 1628.9,1064.3 1634.9,1060.6 1640.9,1056.9 1646.9,1053.0 1652.9,1048.9 1658.9,1044.7 1664.9,1040.4 1670.9,1035.9 1676.9,1031.4 1682.9,1026.6 1688.9,1021.8 1694.9,1016.8 1700.9,1011.6 1706.9,1006.3 1712.9,1000.9 1718.9,995.4 1724.9,989.7 1730.9,983.9 1736.9,977.9 1742.9,971.8 1748.9,965.6 1754.6,959.5" fill="none" stroke="#000" stroke-opacity="0.5" stroke-width="2"/>
<text x="1131.1" y="867.5" text-anchor="middle" font-size="16" fill="#fff">14</text>
<text x="1203.1" y="1057.5" text-anchor="middle" font-size="16" fill="#fff">5.5</text>
<text x="1275.3" y="1068.7" text-anchor="middle" font-size="16" fill="#fff">5</text>
<text x="1347.5" y="1100.0" text-anchor="middle" font-size="16" fill="#fff">3.6</text>
<text x="1420.9" y="1135.8" text-anchor="middle" font-size="16" fill="#fff">2</text>
<text x="1493.1" y="1091.1" text-anchor="middle" font-size="16" fill="#fff">4</text>
<text x="1565.3" y="1102.2" text-anchor="middle" font-size="16" fill="#fff">3.5</text>
<text x="1637.6" y="1113.4" text-anchor="middle" font-size="16" fill="#fff">3</text>
<text x="1709.6" y="1024.0" text-anchor="middle" font-size="16" fill="#fff">7</text>
<text transform="translate(1143.9,1178.8) rotate(-45) scale(0.919,1)" text-anchor="end" font-size="18.4" fill="#606060" stroke="#606060" stroke-width="0.75">VLCD</text>
<text transform="translate(1215.0,1177.8) rotate(-45) scale(1.019,1)" text-anchor="end" font-size="18.4" fill="#606060" stroke="#606060" stroke-width="0.75">Atkins induction</text>
<text transform="translate(1287.9,1177.9) rotate(-45) scale(0.985,1)" text-anchor="end" font-size="18.4" fill="#606060" stroke="#606060" stroke-width="0.75">MAD</text>
<text transform="translate(1359.0,1178.1) rotate(-45) scale(1.012,1)" text-anchor="end" font-size="18.4" fill="#606060" stroke="#606060" stroke-width="0.75">Atkins maintenans</text>
<text transform="translate(1431.8,1177.6) rotate(-45) scale(1.008,1)" text-anchor="end" font-size="18.4" fill="#606060" stroke="#606060" stroke-width="0.75">Zone</text>
<text transform="translate(1504.7,1178.1) rotate(-45) scale(0.992,1)" text-anchor="end" font-size="18.4" fill="#606060" stroke="#606060" stroke-width="0.75">KLC</text>
<text transform="translate(1576.2,1179.4) rotate(-45) scale(0.842,1)" text-anchor="end" font-size="18.4" fill="#606060" stroke="#606060" stroke-width="0.75">WW</text>
<text transform="translate(1651.5,1177.8) rotate(-45) scale(1.021,1)" text-anchor="end" font-size="18.4" fill="#606060" stroke="#606060" stroke-width="0.75">VLFD</text>
<text transform="translate(1722.0,1178.2) rotate(-45) scale(1.001,1)" text-anchor="end" font-size="18.4" fill="#606060" stroke="#606060" stroke-width="0.75">NLC</text>
</g>
</svg>
</body></html>
